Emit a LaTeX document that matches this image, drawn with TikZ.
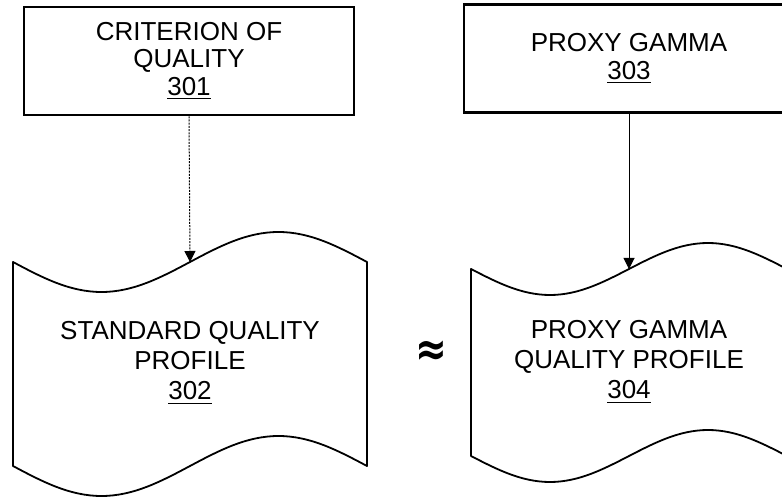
\documentclass[tikz,border=0pt]{standalone}
\usepackage{fontspec}
\setmainfont{Liberation Sans}
\newfontfamily\symfont{DejaVu Sans}
\usepackage{tikz}
\usetikzlibrary{arrows.meta, positioning}

\tikzset{
  stepbox/.style={draw, line width=1.3pt, minimum width=165pt, minimum height=54pt,
    align=center, inner sep=0pt, font=\fontsize{13}{13.7}\selectfont},
  profiletext/.style={align=center, inner sep=0pt, font=\fontsize{13}{15}\selectfont},
  profileline/.style={line width=0.9pt, line join=round},
  conn/.style={line width=0.5pt, -{Triangle[length=5.5pt, width=5.5pt]}},
}

\begin{document}
\begin{tikzpicture}[x=0.5pt, y=-0.5pt]
  \useasboundingbox (0,0) rectangle (782,502);
  \clip (0,0) rectangle (782,502);

  % --- top boxes ---
  \node[stepbox] (c301) at (189,61) {CRITERION OF\\QUALITY\\\underline{301}};
  \node[stepbox] (g303) at (629,58.5) {PROXY GAMMA\\\underline{303}};

  % --- left: standard quality profile (wavy document) ---
  \draw[profileline] (13,262) sin (101.5,292) cos (190,262) sin (278.5,232) cos (367,262)
    -- (367,466) sin (278.5,436) cos (190,466) sin (101.5,496) cos (13,466) -- cycle;
  \coordinate (p302top) at (190,262);
  \node[profiletext] (p302) at (190,363) {STANDARD QUALITY\\PROFILE\\\underline{302}};

  % --- right: proxy gamma quality profile (wavy document) ---
  \draw[profileline] (471,269) sin (550,295) cos (629,269) sin (708,243) cos (787,269)
    -- (787,456) sin (708,430) cos (629,456) sin (550,482) cos (471,456) -- cycle;
  \coordinate (p304top) at (629,269);
  \node[profiletext] (p304) at (629,362) {PROXY GAMMA\\QUALITY PROFILE\\\underline{304}};

  % --- approx sign ---
  \node[inner sep=0pt, yscale=1.25, font=\symfont\bfseries\fontsize{19}{19}\selectfont] (approx) at (431,353) {≈};

  % --- connectors ---
  \draw[conn, dash pattern=on 1pt off 0.6pt] (c301.south) -- (p302top);
  \draw[conn] (g303.south) -- (p304top);
\end{tikzpicture}
\end{document}
